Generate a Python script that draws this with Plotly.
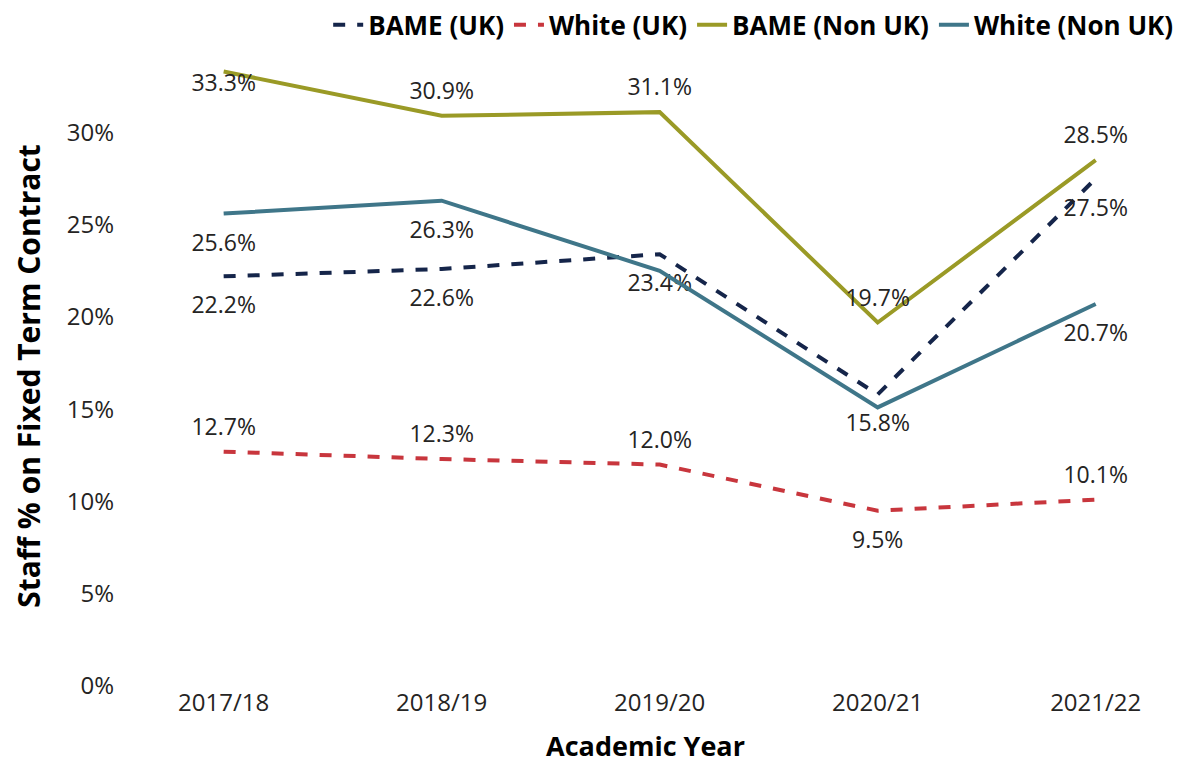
import plotly.graph_objects as go

years = ["2017/18", "2018/19", "2019/20", "2020/21", "2021/22"]

bame_uk = [22.2, 22.6, 23.4, 15.8, 27.5]
white_uk = [12.7, 12.3, 12.0, 9.5, 10.1]
bame_non_uk = [33.3, 30.9, 31.1, 19.7, 28.5]
white_non_uk = [25.6, 26.3, 22.5, 15.1, 20.7]

# which labels are shown, and where
bame_uk_pos = ["bottom center"] * 5
white_uk_pos = ["top center", "top center", "top center", "bottom center", "top center"]
bame_non_uk_pos = ["bottom center", "top center", "top center", "top center", "top center"]
white_non_uk_pos = ["bottom center"] * 5
white_non_uk_show = [True, True, False, False, True]

FONT = "Open Sans"
TXT = "#252423"


def labels(vals, show=None):
    if show is None:
        show = [True] * len(vals)
    return [f"{v:.1f}%" if s else "" for v, s in zip(vals, show)]


def gaps(pos):
    # invisible marker size, pushes labels off the line
    return [16 if p.startswith("top") else 30 for p in pos]


bnu_gap = gaps(bame_non_uk_pos)
bnu_gap[0] = 2  # first label sits nearly on the line (top of chart)

series = [
    ("BAME (UK)", bame_uk, "#15254a", "dash", bame_uk_pos, None, gaps(bame_uk_pos)),
    ("White (UK)", white_uk, "#c8363d", "dash", white_uk_pos, None, gaps(white_uk_pos)),
    ("BAME (Non UK)", bame_non_uk, "#9a9a26", "solid", bame_non_uk_pos, None, bnu_gap),
    ("White (Non UK)", white_non_uk, "#3f7689", "solid", white_non_uk_pos, white_non_uk_show, gaps(white_non_uk_pos)),
]

fig = go.Figure()
for name, vals, col, dash, pos, show, msize in series:
    fig.add_scatter(
        x=years, y=vals, name=name, mode="lines+markers+text",
        line=dict(color=col, width=4, dash=dash),
        marker=dict(size=msize, color="rgba(0,0,0,0)", line=dict(width=0, color="rgba(0,0,0,0)")),
        text=labels(vals, show), textposition=pos,
        textfont=dict(family=FONT, size=23, color=TXT),
        cliponaxis=False,
    )

fig.update_layout(
    width=1182, height=767,
    paper_bgcolor="white", plot_bgcolor="white",
    margin=dict(l=111, r=18, t=58, b=89, autoexpand=False),
    font=dict(family=FONT, color=TXT),
    legend=dict(
        orientation="h", xref="container", yref="container",
        x=0.99, xanchor="right", y=0.978, yanchor="middle",
        font=dict(family=FONT, size=26, color="black", weight="bold"),
        tracegroupgap=0,
    ),
    xaxis=dict(
        type="category", range=[-0.48, 4.35],
        showgrid=False, zeroline=False, showline=False, ticks="",
        tickfont=dict(size=24, color=TXT),
        title=dict(text="Academic Year", font=dict(size=27, color="black", weight="bold"), standoff=20),
    ),
    yaxis=dict(
        range=[0, 33.6], tickvals=[0, 5, 10, 15, 20, 25, 30],
        ticktext=["0%", "5%", "10%", "15%", "20%", "25%", "30%"],
        showgrid=False, zeroline=False, showline=False, ticks="",
        tickfont=dict(size=24, color=TXT), ticklabelstandoff=4,
        title=dict(text="Staff % on Fixed Term Contract", font=dict(size=30, color="black", weight="bold"), standoff=17),
    ),
)

fig.write_html("out.html")
